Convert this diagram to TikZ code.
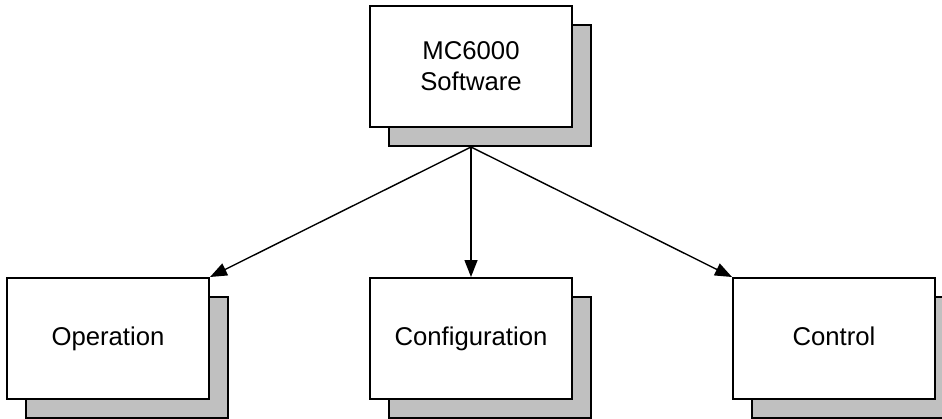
\documentclass[tikz,border=0pt]{standalone}
\usepackage{fontspec}
\setmainfont{Liberation Sans}
\usetikzlibrary{positioning, arrows.meta, shadows}
\definecolor{shade}{HTML}{C0C0C0}

\begin{document}
\begin{tikzpicture}[
    >={Triangle[length=8.5pt, width=6.5pt]},
    node distance=74.5pt and 79.5pt,
    card/.style={draw, fill=white, line width=1pt, minimum width=101pt, minimum height=60.5pt,
                 align=center, font=\fontsize{12.85}{15.5}\selectfont,
                 general shadow={fill=shade, draw=black, line width=1pt,
                                 shadow xshift=9.5pt, shadow yshift=-9.5pt}},
    leaf/.style={card, text height=9.3pt, text depth=2.7pt},
    link/.style={->, line width=0.7pt},
]
\useasboundingbox (0,0) rectangle (471pt,-209pt);

% Root box
\node[card] (soft) at (235.5pt,-33.25pt) {MC6000\\Software};
\coordinate (hub) at ([yshift=-9.5pt]soft.south);

% Children
\node[leaf, below=of soft] (conf) {Configuration};
\node[leaf, left=of conf] (oper) {Operation};
\node[leaf, right=of conf] (ctrl) {Control};

% Links
\draw[link] (hub) -- (oper.north east);
\draw[link] (hub) -- (conf.north);
\draw[link] (hub) -- (ctrl.north west);

\end{tikzpicture}
\end{document}
